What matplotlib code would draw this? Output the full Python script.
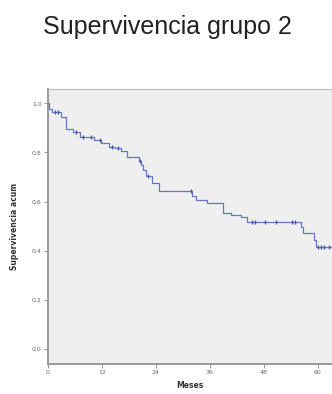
import numpy as np
import matplotlib
matplotlib.use("Agg")
import matplotlib.pyplot as plt

# Kaplan-Meier step data (months, cumulative survival after the drop)
event_times = [0.0, 0.3, 1.0, 2.8, 4.0, 5.5, 7.2, 10.3, 11.8, 13.6, 14.8, 16.3, 17.6,
               20.3, 20.7, 21.2, 21.8, 23.2, 24.6, 32.1, 33.0, 35.4, 38.9, 40.8,
               43.0, 44.3, 56.2, 56.8, 59.2, 59.6]
survival = [1.0, 0.976, 0.963, 0.945, 0.894, 0.885, 0.862, 0.851, 0.837, 0.824, 0.817,
            0.807, 0.780, 0.765, 0.748, 0.729, 0.706, 0.675, 0.643, 0.625, 0.607,
            0.595, 0.555, 0.546, 0.537, 0.519, 0.495, 0.471, 0.444, 0.417]
censor_times = [1.5, 2.2, 6.2, 7.8, 9.5, 11.5, 14.3, 15.5, 20.5, 22.3, 31.9,
                45.4, 46.1, 48.2, 50.8, 54.2, 54.9, 60.1, 60.8, 61.5, 62.5]
end_time = 63.2

x_ticks = [0, 12, 24, 36, 48, 60]
y_ticks = [0.0, 0.2, 0.4, 0.6, 0.8, 1.0]
y_tick_labels = ["0,0", "0,2", "0,4", "0,6", "0,8", "1,0"]

title = "Supervivencia grupo 2"
xlabel = "Meses"
ylabel = "Supervivencia acum"

line_color = "#6476c4"
censor_color = "#4556a0"
bg_color = "#efefef"
spine_color = "#9a9a9a"

fig = plt.figure(figsize=(3.32, 3.94), dpi=100)
fig.patch.set_facecolor("white")
ax = fig.add_axes([48 / 332, 30 / 394, 1 - 48 / 332, (364 - 89) / 394])
ax.set_facecolor(bg_color)

xs = list(event_times) + [end_time]
ys = list(survival) + [survival[-1]]
ax.step(xs, ys, where="post", color=line_color, lw=0.9)

et = np.array(event_times)
sv = np.array(survival)
idx = np.searchsorted(et, np.array(censor_times), side="right") - 1
ax.plot(censor_times, sv[idx], linestyle="none", marker="|", markersize=3.5,
        markeredgewidth=1.0, color=censor_color)

ax.set_xlim(0, end_time)
ax.set_ylim(-0.06, 1.058)
ax.set_xticks(x_ticks)
ax.set_xticklabels([str(t) for t in x_ticks])
ax.set_yticks(y_ticks)
ax.set_yticklabels(y_tick_labels)
ax.tick_params(axis="both", labelsize=4.5, colors="#666666", length=3, width=0.8,
               pad=1.5)
ax.tick_params(axis="both", color=spine_color)

for side in ["left", "bottom"]:
    ax.spines[side].set_color(spine_color)
    ax.spines[side].set_linewidth(1.4)
ax.spines["top"].set_color("#bbbbbb")
ax.spines["top"].set_linewidth(0.8)
ax.spines["right"].set_visible(False)

ax.set_xlabel(xlabel, fontsize=5.5, fontweight="bold", color="#333333", labelpad=4)
ax.set_ylabel(ylabel, fontsize=5.5, fontweight="bold", color="#333333", labelpad=9)

fig.text(0.505, 1 - 27 / 394, title, ha="center", va="center", fontsize=18,
         family="Liberation Sans", color="#222222")

fig.savefig("out.png", dpi=100)
